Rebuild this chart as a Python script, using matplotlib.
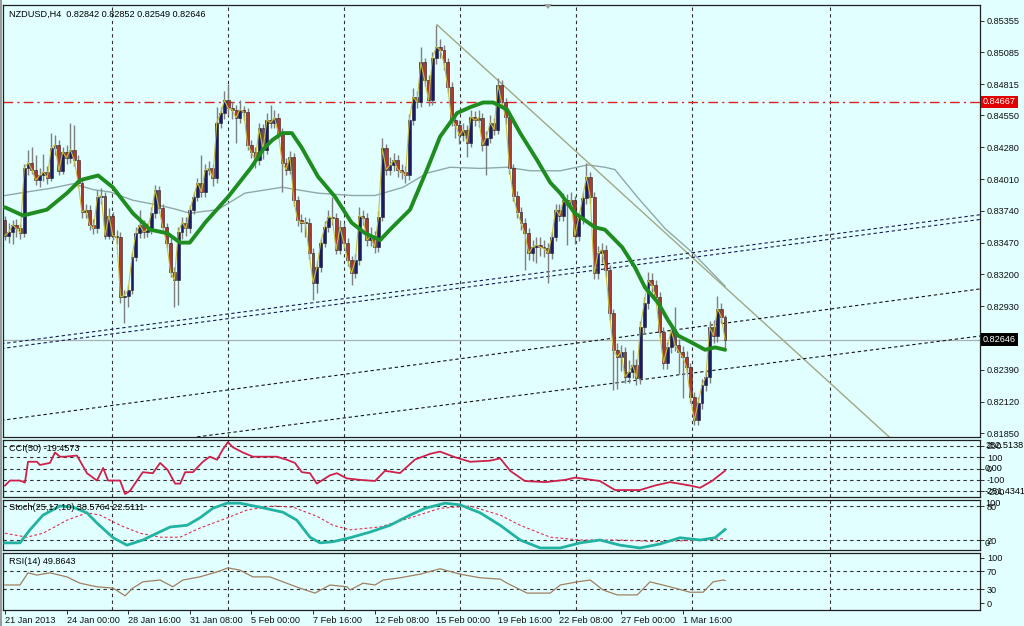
import matplotlib
matplotlib.use("Agg")
import matplotlib.pyplot as plt
from matplotlib.patches import Polygon
import matplotlib.transforms as mtransforms

# ---------------- data ----------------
symbol_title = "NZDUSD,H4  0.82842 0.82852 0.82549 0.82646"

opens = [0.8366, 0.8353, 0.8356, 0.8362, 0.8359, 0.8355, 0.8410, 0.8415, 0.8409, 0.8400,
         0.8404, 0.8407, 0.8402, 0.8427, 0.8430, 0.8408, 0.8424, 0.8419, 0.8426, 0.8417,
         0.8398, 0.8373, 0.8375, 0.8362, 0.8359, 0.8386, 0.8387, 0.8353, 0.8370, 0.8353,
         0.8352, 0.8301, 0.8302, 0.8307, 0.8335, 0.8355, 0.8362, 0.8356, 0.8358, 0.8372,
         0.8392, 0.8376, 0.8360, 0.8347, 0.8322, 0.8315, 0.8356, 0.8364, 0.8359, 0.8375,
         0.8386, 0.8398, 0.8390, 0.8409, 0.8410, 0.8402, 0.8449, 0.8457, 0.8468, 0.8461,
         0.8460, 0.8453, 0.8460, 0.8458, 0.8430, 0.8424, 0.8417, 0.8444, 0.8426, 0.8451,
         0.8449, 0.8453, 0.8440, 0.8415, 0.8409, 0.8420, 0.8383, 0.8366, 0.8364, 0.8364,
         0.8338, 0.8313, 0.8326, 0.8347, 0.8360, 0.8369, 0.8368, 0.8341, 0.8360, 0.8347,
         0.8332, 0.8321, 0.8332, 0.8370, 0.8368, 0.8349, 0.8353, 0.8343, 0.8369, 0.8427,
         0.8409, 0.8413, 0.8417, 0.8409, 0.8407, 0.8404, 0.8451, 0.8471, 0.8466, 0.8500,
         0.8485, 0.8468, 0.8504, 0.8513, 0.8511, 0.8500, 0.8479, 0.8451, 0.8447, 0.8438,
         0.8443, 0.8432, 0.8454, 0.8451, 0.8453, 0.8430, 0.8436, 0.8449, 0.8443, 0.8481,
         0.8466, 0.8454, 0.8410, 0.8387, 0.8373, 0.8364, 0.8355, 0.8338, 0.8343, 0.8345,
         0.8343, 0.8342, 0.8338, 0.8352, 0.8375, 0.8370, 0.8383, 0.8379, 0.8383, 0.8353,
         0.8368, 0.8385, 0.8403, 0.8386, 0.8321, 0.8338, 0.8341, 0.8324, 0.8287, 0.8256,
         0.8250, 0.8254, 0.8233, 0.8237, 0.8243, 0.8232, 0.8275, 0.8296, 0.8315, 0.8311,
         0.8301, 0.8271, 0.8245, 0.8258, 0.8273, 0.8260, 0.8254, 0.8250, 0.8241, 0.8216,
         0.8196, 0.8211, 0.8226, 0.8233, 0.8275, 0.8268, 0.8291, 0.82842]

closes = [0.8353, 0.8356, 0.8362, 0.8359, 0.8355, 0.8410, 0.8415, 0.8409, 0.8400, 0.8404,
          0.8407, 0.8402, 0.8427, 0.8430, 0.8408, 0.8424, 0.8419, 0.8426, 0.8417, 0.8398,
          0.8373, 0.8375, 0.8362, 0.8359, 0.8386, 0.8387, 0.8353, 0.8370, 0.8353, 0.8352,
          0.8301, 0.8302, 0.8307, 0.8335, 0.8355, 0.8362, 0.8356, 0.8358, 0.8372, 0.8392,
          0.8376, 0.8360, 0.8347, 0.8322, 0.8315, 0.8356, 0.8364, 0.8359, 0.8375, 0.8386,
          0.8398, 0.8390, 0.8409, 0.8410, 0.8402, 0.8449, 0.8457, 0.8468, 0.8461, 0.8460,
          0.8453, 0.8460, 0.8458, 0.8430, 0.8424, 0.8417, 0.8444, 0.8426, 0.8451, 0.8449,
          0.8453, 0.8440, 0.8415, 0.8409, 0.8420, 0.8383, 0.8366, 0.8364, 0.8364, 0.8338,
          0.8313, 0.8326, 0.8347, 0.8360, 0.8369, 0.8368, 0.8341, 0.8360, 0.8347, 0.8332,
          0.8321, 0.8332, 0.8370, 0.8368, 0.8349, 0.8353, 0.8343, 0.8369, 0.8427, 0.8409,
          0.8413, 0.8417, 0.8409, 0.8407, 0.8404, 0.8451, 0.8471, 0.8466, 0.8500, 0.8485,
          0.8468, 0.8504, 0.8513, 0.8511, 0.8500, 0.8479, 0.8451, 0.8447, 0.8438, 0.8443,
          0.8432, 0.8454, 0.8451, 0.8453, 0.8430, 0.8436, 0.8449, 0.8443, 0.8481, 0.8466,
          0.8454, 0.8410, 0.8387, 0.8373, 0.8364, 0.8355, 0.8338, 0.8343, 0.8345, 0.8343,
          0.8342, 0.8338, 0.8352, 0.8375, 0.8370, 0.8383, 0.8379, 0.8383, 0.8353, 0.8368,
          0.8385, 0.8403, 0.8386, 0.8321, 0.8338, 0.8341, 0.8324, 0.8287, 0.8256, 0.8250,
          0.8254, 0.8233, 0.8237, 0.8243, 0.8232, 0.8275, 0.8296, 0.8315, 0.8311, 0.8301,
          0.8271, 0.8245, 0.8258, 0.8273, 0.8260, 0.8254, 0.8250, 0.8241, 0.8216, 0.8196,
          0.8211, 0.8226, 0.8233, 0.8275, 0.8268, 0.8291, 0.82842, 0.82646]

highs = [0.8370, 0.8364, 0.8366, 0.8367, 0.8363, 0.8414, 0.8426, 0.8428, 0.8421, 0.8410,
         0.8422, 0.8412, 0.8440, 0.8438, 0.8434, 0.8428, 0.8430, 0.8449, 0.8447, 0.8421,
         0.8402, 0.8380, 0.8379, 0.8367, 0.8392, 0.8393, 0.8390, 0.8376, 0.8373, 0.8358,
         0.8356, 0.8307, 0.8311, 0.8339, 0.8360, 0.8375, 0.8366, 0.8364, 0.8377, 0.8396,
         0.8395, 0.8380, 0.8364, 0.8351, 0.8326, 0.8360, 0.8369, 0.8369, 0.8379, 0.8390,
         0.8402, 0.8421, 0.8414, 0.8416, 0.8414, 0.8462, 0.8462, 0.8476, 0.8482, 0.8466,
         0.8464, 0.8468, 0.8463, 0.8461, 0.8434, 0.8428, 0.8449, 0.8448, 0.8457, 0.8464,
         0.8460, 0.8457, 0.8444, 0.8419, 0.8425, 0.8423, 0.8387, 0.8371, 0.8369, 0.8368,
         0.8342, 0.8331, 0.8351, 0.8365, 0.8375, 0.8386, 0.8372, 0.8366, 0.8364, 0.8351,
         0.8336, 0.8337, 0.8377, 0.8375, 0.8372, 0.8360, 0.8357, 0.8374, 0.8436, 0.8431,
         0.8420, 0.8423, 0.8421, 0.8414, 0.8412, 0.8456, 0.8478, 0.8476, 0.8513, 0.8504,
         0.8489, 0.8509, 0.8532, 0.8520, 0.8515, 0.8504, 0.8483, 0.8456, 0.8451, 0.8449,
         0.8447, 0.8460, 0.8459, 0.8460, 0.8457, 0.8442, 0.8455, 0.8453, 0.8487, 0.8485,
         0.8470, 0.8458, 0.8414, 0.8391, 0.8377, 0.8368, 0.8359, 0.8349, 0.8352, 0.8352,
         0.8349, 0.8347, 0.8357, 0.8380, 0.8380, 0.8389, 0.8388, 0.8390, 0.8387, 0.8373,
         0.8390, 0.8415, 0.8407, 0.8390, 0.8344, 0.8347, 0.8345, 0.8328, 0.8291, 0.8262,
         0.8260, 0.8258, 0.8247, 0.8256, 0.8248, 0.8280, 0.8301, 0.8322, 0.8321, 0.8315,
         0.8305, 0.8275, 0.8263, 0.8278, 0.8292, 0.8265, 0.8259, 0.8255, 0.8245, 0.8220,
         0.8216, 0.8231, 0.8238, 0.8280, 0.8281, 0.8302, 0.8296, 0.82852]

lows = [0.8349, 0.8347, 0.8346, 0.8352, 0.8350, 0.8352, 0.8404, 0.8405, 0.8396, 0.8394,
        0.8399, 0.8397, 0.8399, 0.8421, 0.8404, 0.8405, 0.8414, 0.8415, 0.8412, 0.8394,
        0.8368, 0.8368, 0.8358, 0.8354, 0.8355, 0.8380, 0.8350, 0.8350, 0.8349, 0.8346,
        0.8296, 0.8279, 0.8292, 0.8303, 0.8331, 0.8351, 0.8351, 0.8352, 0.8354, 0.8368,
        0.8372, 0.8356, 0.8342, 0.8318, 0.8292, 0.8294, 0.8350, 0.8353, 0.8355, 0.8371,
        0.8382, 0.8386, 0.8386, 0.8404, 0.8395, 0.8398, 0.8444, 0.8452, 0.8455, 0.8452,
        0.8432, 0.8449, 0.8451, 0.8426, 0.8419, 0.8410, 0.8413, 0.8418, 0.8422, 0.8444,
        0.8444, 0.8436, 0.8390, 0.8404, 0.8405, 0.8378, 0.8361, 0.8356, 0.8352, 0.8333,
        0.8298, 0.8304, 0.8322, 0.8343, 0.8356, 0.8362, 0.8337, 0.8337, 0.8342, 0.8327,
        0.8311, 0.8317, 0.8328, 0.8362, 0.8344, 0.8344, 0.8338, 0.8339, 0.8365, 0.8404,
        0.8404, 0.8408, 0.8403, 0.8401, 0.8398, 0.8400, 0.8447, 0.8461, 0.8462, 0.8480,
        0.8463, 0.8464, 0.8499, 0.8504, 0.8494, 0.8474, 0.8446, 0.8436, 0.8431, 0.8433,
        0.8420, 0.8428, 0.8446, 0.8445, 0.8425, 0.8404, 0.8432, 0.8438, 0.8439, 0.8461,
        0.8448, 0.8405, 0.8382, 0.8368, 0.8358, 0.8324, 0.8332, 0.8331, 0.8330, 0.8336,
        0.8335, 0.8313, 0.8333, 0.8348, 0.8365, 0.8365, 0.8345, 0.8374, 0.8346, 0.8348,
        0.8363, 0.8380, 0.8381, 0.8316, 0.8316, 0.8330, 0.8318, 0.8281, 0.8222, 0.8223,
        0.8238, 0.8228, 0.8228, 0.8232, 0.8226, 0.8227, 0.8270, 0.8291, 0.8305, 0.8295,
        0.8266, 0.8240, 0.8240, 0.8253, 0.8255, 0.8235, 0.8215, 0.8236, 0.8211, 0.8192,
        0.8192, 0.8206, 0.8221, 0.8228, 0.8262, 0.8263, 0.8279, 0.82549]

# thick green moving average (bar index, price)
ma_green_x = [0, 4.7, 10.9, 16.1, 19.5, 24.2, 28, 33.2, 37.7, 42.1, 45.5, 48, 50.6, 52, 55, 58,
              59.2, 64, 67, 69.4, 72, 74.5, 77, 81.3, 85.7, 90, 93.5, 97.4, 100, 105.2, 109.6,
              113, 117.4, 120.8, 124.2, 126.8, 130.4, 133.8, 138.2, 141.6, 144.2, 148, 153.2,
              155.8, 160.3, 163.6, 166.2, 169.6, 172.2, 174.8, 178.4, 181.8, 184.4, 187]
ma_green_y = [0.8377, 0.8370, 0.8375, 0.8389, 0.8400, 0.8404, 0.8394, 0.8372, 0.8358, 0.8355,
              0.8347, 0.8347, 0.8358, 0.8364, 0.8375, 0.8386, 0.8391, 0.8411, 0.8426, 0.8434,
              0.8440, 0.8440, 0.8428, 0.8403, 0.8386, 0.8364, 0.8355, 0.8349, 0.8358, 0.8375,
              0.8409, 0.8437, 0.8457, 0.8462, 0.8466, 0.8466, 0.8460, 0.8440, 0.8417, 0.8398,
              0.8389, 0.8372, 0.8360, 0.8358, 0.8343, 0.8326, 0.8309, 0.8296, 0.8281, 0.8268,
              0.8262, 0.8256, 0.8258, 0.8256]

# thin grey moving average
ma_grey_x = [0, 5.7, 11.7, 17.7, 22.9, 27.3, 33.2, 39.5, 43.6, 48, 55.3, 62.3, 72, 81.3, 90.1,
             96.1, 103.4, 109.6, 115.6, 123.4, 130.4, 136.4, 144.2, 151.4, 155.8, 158.4, 164.4,
             171.4, 178.7, 187]
ma_grey_y = [0.8387, 0.8390, 0.8393, 0.8397, 0.8392, 0.8390, 0.8383, 0.8379, 0.8376, 0.8372,
             0.8375, 0.8389, 0.8394, 0.8389, 0.8387, 0.8387, 0.8394, 0.8406, 0.8411, 0.8410,
             0.8411, 0.8408, 0.8408, 0.8413, 0.8411, 0.8409, 0.8385, 0.8359, 0.8338, 0.8310]

# trend lines (bar index, price) pairs
trend_down = [(112.2, 0.8532), (240.0, 0.8151)]
channel_a1 = [(-1, 0.8261), (254, 0.8371)]
channel_a2 = [(-1, 0.8257), (254, 0.8367)]
channel_b = [(-1, 0.8196), (254, 0.8308)]
channel_c = [(49.9, 0.8182), (254, 0.8268)]
resistance_level = 0.84667
bid_price = 0.82646

price_ticks = [0.85355, 0.85085, 0.84815, 0.84550, 0.84280, 0.84010, 0.83740,
               0.83470, 0.83200, 0.82930, 0.82390, 0.82120, 0.81850]

# CCI(50)
cci_x = [0, 1.3, 3.9, 5.2, 6, 8.3, 9.1, 11.7, 13, 14.3, 15.6, 18.7, 21.3, 23.9, 25.5, 26.8,
         29.9, 31.2, 32.5, 34.3, 35.8, 38.4, 40.3, 42.3, 44.2, 45.5, 46.8, 48.8, 51.4, 53.2,
         55.1, 56.6, 57.9, 59.2, 61.8, 64.4, 68, 70.6, 73.2, 75.3, 77.1, 79.2, 81, 84.4, 86.2,
         88.8, 92.2, 96.1, 98.7, 102.6, 106.5, 110.4, 113, 116.9, 120.8, 126, 128.6, 131.2,
         135, 140.3, 145.5, 148.1, 154.5, 158.4, 164.9, 168.8, 172.7, 177.9, 180.5, 183.6, 187]
cci_y = [-151, -106, -106, -124, 60, 60, 32, 50, 142, 105, 105, 115, -41, -106, 5, -106,
         -106, -225, -197, -106, -32, -41, 50, -14, -133, -133, -32, -32, 60, 105,
         78, 170, 234, 188, 142, 105, 105, 105, 78, 50, -32, -41, -133, -60, -41,
         -87, -100, -110, -20, -40, 80, 130, 150, 100, 60, 70, 90, -20,
         -110, -120, -100, -80, -110, -190, -190, -150, -120, -150, -170, -110, -19.4573]

# Stochastic(25,17,10)
stoch_x = [0, 3.9, 6.5, 9.9, 14.3, 17.7, 21.3, 23.9, 28.1, 31.7, 35.8, 39.5, 42.9, 47.3, 50.6,
           54, 57.7, 61, 66.2, 72.2, 75.8, 79.2, 81.8, 85.2, 89.6, 94.8, 100, 105.2, 109.1,
           114.3, 118.2, 123.4, 128.6, 133.8, 139, 144.2, 149.4, 154.5, 159.7, 164.9, 170.1,
           175.3, 180.5, 184.4, 187]
stoch_main = [15, 15, 38, 64, 80, 78, 68, 50, 24, 11, 20, 32, 43, 46, 59,
              76, 85, 85, 78, 69, 55, 25, 15, 17, 24, 34, 46, 64, 76,
              85, 82, 68, 46, 20, 6, 6, 15, 20, 11, 6, 13,
              24, 20, 24, 38.5764]
signal_x = [0, 5.7, 9.9, 16.1, 21.3, 24.7, 29.9, 35.1, 40.3, 45.5, 50.6, 57.7, 62.9, 69.6, 74.8,
            81, 85.2, 89.6, 97.4, 105.2, 113, 120.8, 128.6, 133.8, 141.6, 149.4, 159.7, 170.1,
            180.5, 187]
stoch_signal = [32, 25, 32, 55, 68, 64, 46, 32, 25, 25, 41, 59, 73, 80, 78,
                62, 46, 38, 43, 59, 76, 80, 64, 46, 25, 20, 20, 17, 20, 22.5111]

# RSI(14)
rsi_x = [0, 3.9, 6, 8.3, 11.7, 16.1, 19.5, 23.9, 28.1, 31.2, 33.2, 35.8, 40.3, 43.6, 46.2, 50.6,
         55.1, 57.9, 61, 64.4, 68.8, 72.2, 76.6, 80.5, 84.4, 88.8, 89.6, 93, 96.1, 98.2, 102.6,
         107.8, 113, 118.2, 123.4, 128.6, 130.4, 135.6, 141.6, 144.2, 148.6, 152, 155.3, 159,
         164.2, 167.5, 172.7, 177.9, 181.3, 183.9, 186.5, 187]
rsi_y = [40, 40, 67, 62, 67, 58, 44, 36, 33, 16, 33, 47, 51, 36, 51, 58,
         69, 78, 73, 58, 58, 47, 33, 22, 40, 36, 29, 44, 40, 51, 56,
         64, 76, 64, 56, 53, 44, 22, 22, 40, 47, 51, 29, 18,
         18, 47, 36, 24, 24, 47, 51, 49.8643]

date_ticks = [0, 16, 32, 48, 64, 80, 96, 112, 128, 144, 160, 176]
date_labels = ["21 Jan 2013", "24 Jan 00:00", "28 Jan 16:00", "31 Jan 08:00", "5 Feb 00:00",
               "7 Feb 16:00", "12 Feb 08:00", "15 Feb 00:00", "19 Feb 16:00", "22 Feb 08:00",
               "27 Feb 00:00", "1 Mar 16:00"]
grid_bars = [27.8, 57.9, 88.1, 118.2, 148.3, 178.4, 214.3]

# ---------------- style ----------------
BG = '#E1FFFF'
FS = 6.6
plt.rcParams['font.family'] = ['Liberation Sans', 'DejaVu Sans']
W, H = 1024, 626
fig = plt.figure(figsize=(W / 100, H / 100), dpi=100, facecolor=BG)


def rect(top, bottom, left=3, right=980):
    return [left / W, 1 - bottom / H, (right - left) / W, (bottom - top) / H]


ax = fig.add_axes(rect(5, 437))
ax_cci = fig.add_axes(rect(440, 497))
ax_st = fig.add_axes(rect(500, 550))
ax_rsi = fig.add_axes(rect(553, 610))
XLIM = (-0.5, 253.2)

for a in (ax, ax_cci, ax_st, ax_rsi):
    a.set_facecolor(BG)
    a.set_xlim(*XLIM)
    for s in a.spines.values():
        s.set_color('#202020')
        s.set_linewidth(0.9)
    a.yaxis.tick_right()
    a.tick_params(axis='y', labelsize=FS, length=3, width=0.6, pad=2, colors='#101010')
    a.tick_params(axis='x', length=0, labelbottom=False)
    for g in grid_bars:
        a.axvline(g, color='#303030', lw=0.8, ls=(0, (3, 3)), zorder=0.5)

# ---- main price panel ----
ax.set_ylim(0.81819, 0.85488)
idx = list(range(len(closes)))
bull_c, bear_c = '#1B1B6B', '#B0382C'
ax.vlines(idx, lows, highs, color='#7F7F7F', lw=1.0, zorder=2)
bodies_bot = [min(o, c) for o, c in zip(opens, closes)]
bodies_h = [max(abs(c - o), 0.00005) for o, c in zip(opens, closes)]
cols = [bull_c if c >= o else bear_c for o, c in zip(opens, closes)]
ax.bar(idx, bodies_h, bottom=bodies_bot, width=0.74, color=cols,
       edgecolor='#202020', linewidth=0.4, zorder=3)

ax.plot(idx, closes, color='#C8C040', lw=0.8, zorder=4)
ax.plot(ma_grey_x, ma_grey_y, color='#90A8A8', lw=1.0, zorder=1.5)
ax.plot(ma_green_x, ma_green_y, color='#1E8C1E', lw=2.8, zorder=5,
        solid_capstyle='round', solid_joinstyle='round')

ax.plot(*zip(*trend_down), color='#A0A880', lw=1.0, zorder=1.6)
for ln, colr in ((channel_a1, '#1A1A50'), (channel_a2, '#1A1A50'),
                 (channel_b, '#151515'), (channel_c, '#151515')):
    ax.plot(*zip(*ln), color=colr, lw=0.8, ls=(0, (3, 2.5)), zorder=1.7)

ax.axhline(resistance_level, color='#E02020', lw=1.0, ls=(0, (7, 3, 1.5, 3)), zorder=1.8)
ax.axhline(bid_price, color='#A8B0B0', lw=0.9, zorder=1.4)

ax.set_yticks(price_ticks)
ax.set_yticklabels([f"{v:.5f}" for v in price_ticks])
ytr = mtransforms.blended_transform_factory(ax.transAxes, ax.transData)
ax.text(1.003, resistance_level, f"{resistance_level:.5f}", transform=ytr, fontsize=FS,
        color='white', va='center', ha='left',
        bbox=dict(boxstyle='square,pad=0.18', fc='#E00000', ec='none'), clip_on=False)
ax.text(1.003, bid_price, f"{bid_price:.5f}", transform=ytr, fontsize=FS,
        color='white', va='center', ha='left',
        bbox=dict(boxstyle='square,pad=0.18', fc='#000000', ec='none'), clip_on=False)
ax.text(0.006, 0.988, symbol_title, transform=ax.transAxes, fontsize=FS, va='top', ha='left')

# ---- CCI ----
ax_cci.set_ylim(-251.4341, 252.5138)
for lv in (200, 100, 0, -100, -200):
    ax_cci.axhline(lv, color='#303030', lw=0.8, ls=(0, (3, 3)), zorder=0.5)
ax_cci.plot(cci_x, cci_y, color='#D0204A', lw=1.3, zorder=3)
ax_cci.set_yticks([200, 100, 0, -100, -200])
ax_cci.set_yticklabels(['200', '100', '0', '-100', '-200'])
ctr = mtransforms.blended_transform_factory(ax_cci.transAxes, ax_cci.transData)
for v, s in ((200, '252.5138'), (0, '0.00'), (-200, '-251.4341')):
    ax_cci.text(1.0 + 5 / 977, v, s, transform=ctr, fontsize=FS, va='center', ha='left', clip_on=False)
ax_cci.text(0.006, 0.93, 'CCI(50) -19.4573', transform=ax_cci.transAxes, fontsize=FS, va='top')

# ---- Stochastic ----
ax_st.set_ylim(2.4, 90.6)
for lv in (80, 20):
    ax_st.axhline(lv, color='#303030', lw=0.8, ls=(0, (3, 3)), zorder=0.5)
ax_st.plot(signal_x, stoch_signal, color='#E03050', lw=0.8, ls=(0, (2.5, 2)), zorder=2)
ax_st.plot(stoch_x, stoch_main, color='#22B2A2', lw=2.0, zorder=3)
ax_st.set_yticks([80, 20])
ax_st.set_yticklabels(['80', '20'])
ax_st.text(1.0 + 5 / 977, 0.93, '100', transform=ax_st.transAxes, fontsize=FS, va='center', ha='left')
ax_st.text(1.0 + 5 / 977, 0.12, '0', transform=ax_st.transAxes, fontsize=FS, va='center', ha='left')
ax_st.text(0.006, 0.93, 'Stoch(25,17,10) 38.5764 22.5111', transform=ax_st.transAxes,
           fontsize=FS, va='top')

# ---- RSI ----
ax_rsi.set_ylim(-15.5, 111)
for lv in (70, 30):
    ax_rsi.axhline(lv, color='#303030', lw=0.8, ls=(0, (3, 3)), zorder=0.5)
ax_rsi.plot(rsi_x, rsi_y, color='#A08060', lw=0.9, zorder=3)
ax_rsi.set_yticks([100, 70, 30, 0])
ax_rsi.set_yticklabels(['100', '70', '30', '0'])
ax_rsi.text(0.006, 0.93, 'RSI(14) 49.8643', transform=ax_rsi.transAxes, fontsize=FS, va='top')

ax_rsi.set_xticks(date_ticks)
ax_rsi.set_xticklabels(date_labels)
ax_rsi.tick_params(axis='x', length=3, width=0.6, labelbottom=True, labelsize=FS, pad=1.5,
                   colors='#101010')
for t in ax_rsi.get_xticklabels():
    t.set_ha('left')

# left window border and chart-shift marker
fig.patches.append(plt.Rectangle((0, 0), 2 / W, 1, transform=fig.transFigure,
                                 fc='#9A9A9A', ec='none'))
fig.patches.append(Polygon([[544 / W, 1 - 4 / H], [552 / W, 1 - 4 / H], [548 / W, 1 - 9 / H]],
                           closed=True, transform=fig.transFigure, fc='#A0A0A0', ec='none'))

fig.savefig('out.png', dpi=100, facecolor=BG)
